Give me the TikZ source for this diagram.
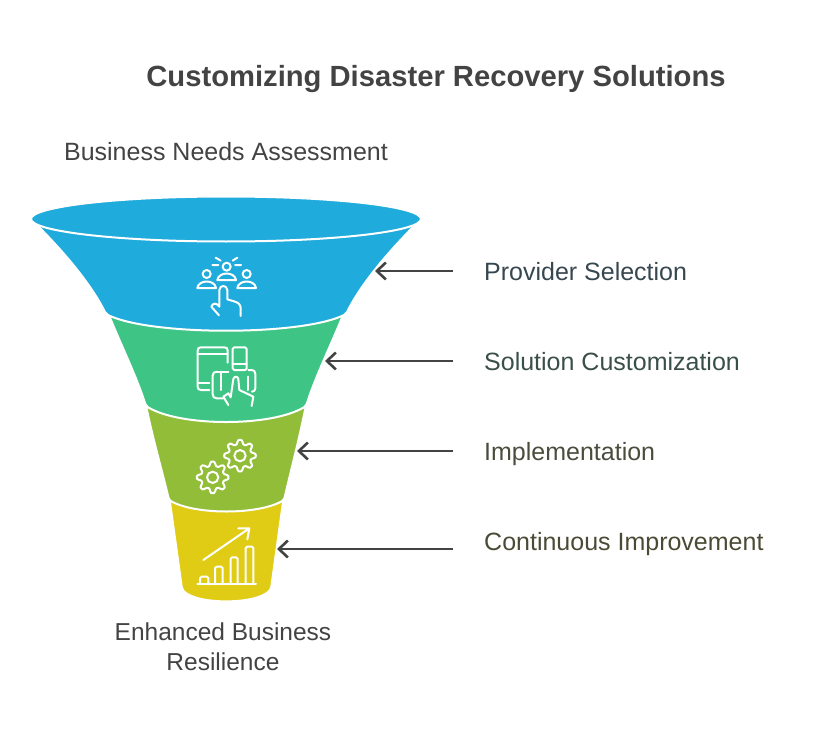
\documentclass[tikz,border=0pt]{standalone}
\usepackage{fontspec}
\setmainfont{Liberation Sans}
\usepackage{tikz}
\usetikzlibrary{arrows.meta,positioning}
\definecolor{inkgray}{HTML}{434343}
\definecolor{inkblue}{HTML}{37474F}
\definecolor{inkgreen}{HTML}{3A4F4A}
\definecolor{inkolive}{HTML}{4A4D3C}
\definecolor{inkyellow}{HTML}{4A4A35}
\definecolor{stageblue}{HTML}{1FABDC}
\definecolor{stagegreen}{HTML}{3EC585}
\definecolor{stageolive}{HTML}{92BD39}
\definecolor{stageyellow}{HTML}{E0CC14}
\newcommand{\GEAR}[2]{%
  \draw[iconline] plot[smooth, domain=0:360, samples=73] ({#1+(41+9*max(-0.7,min(0.7,cos(8*\x))))*cos(\x)}, {#2+(41+9*max(-0.7,min(0.7,cos(8*\x))))*sin(\x)}) -- cycle;
  \draw[iconline] (#1,#2) circle (17);}

\begin{document}
\begin{tikzpicture}[
    x=1pt, y=-1pt,
    stage/.style={draw=white, line width=2pt, rounded corners=2pt},
    iconline/.style={draw=white, line width=2pt, line cap=round, line join=round},
    pointer/.style={-{Straight Barb[length=9pt, width=17pt]}, draw=inkgray, line width=2.6pt},
    side/.style={anchor=base west, inner sep=0pt, font=\fontsize{25}{28}\selectfont},
    head/.style={inner sep=0pt, align=center, font=\fontsize{25}{30}\selectfont, text=inkgray}
]
\useasboundingbox (0,0) rectangle (813,738);

% Funnel, lowest stage first
\fill[stageyellow, stage] (169,495) -- (182,589) .. controls (195,605) and (257,605) .. (271,589) -- (284,495) -- cycle;
\fill[stageolive, stage] (146,405) .. controls (153,440) and (162,470) .. (169,500) .. controls (195,515) and (258,515) .. (284,500) .. controls (291,470) and (299,440) .. (306,405) -- cycle;
\fill[stagegreen, stage] (109,315) .. controls (121,345) and (136,375) .. (146,406) .. controls (180,427) and (272,427) .. (306,406) .. controls (316,375) and (331,345) .. (343,315) -- cycle;
\fill[stageblue, stage] (32,220) .. controls (55,243) and (88,278) .. (106,314) .. controls (150,336) and (302,336) .. (346,314) .. controls (364,278) and (397,243) .. (420,220) -- cycle;
\fill[stageblue, stage] (226,219) ellipse (195 and 22.5);

% Blue icon
\begin{scope}[shift={(20,190)}, xscale=1/3, yscale=1/3]
\draw[iconline] (620,230) circle (12);
\draw[iconline] (592,270) .. controls (596,244) and (644,244) .. (648,270) -- cycle;
\draw[iconline] (560,252) circle (12);
\draw[iconline] (532,294) .. controls (536,268) and (584,268) .. (588,294) -- cycle;
\draw[iconline] (680,252) circle (12);
\draw[iconline] (652,294) .. controls (656,268) and (704,268) .. (708,294) -- cycle;
\draw[iconline] (587,203) -- (602,212) (652,203) -- (638,212) (577,225) -- (595,225) (645,225) -- (663,225);
\draw[iconline] (597,376) -- (574,350) .. controls (578,338) and (590,338) .. (598,350) -- (598,300) .. controls (600,284) and (620,284) .. (622,300) -- (622,328) -- (645,335) .. controls (656,338) and (662,345) .. (662,355) -- (662,378);
\end{scope}

% Green icon
\begin{scope}[shift={(100,310)}, xscale=1/3, yscale=1/3]
\draw[iconline] (328,240) -- (303,240) .. controls (296,240) and (293,236) .. (293,230) -- (293,122) .. controls (293,115) and (296,112) .. (303,112) -- (373,112) .. controls (380,112) and (383,115) .. (383,122) -- (383,158);
\draw[iconline] (293,132) -- (383,132) (293,218) -- (328,218);
\draw[iconline, rounded corners=1.5pt] (398,112) rectangle (440,180);
\draw[iconline] (398,162) -- (440,162);
\draw[iconline] (350,185) .. controls (342,185) and (338,190) .. (338,197) -- (338,252) .. controls (338,260) and (342,265) .. (350,265) -- (370,265);
\draw[iconline] (350,185) -- (385,185) (362,185) -- (362,240);
\draw[iconline] (445,180) -- (455,180) .. controls (462,180) and (466,184) .. (466,192) -- (466,235) .. controls (466,241) and (462,245) .. (456,245);
\draw[iconline] (445,200) -- (445,240);
\draw[iconline] (385,285) -- (370,260) -- (385,250) -- (392,262) -- (400,207) .. controls (403,198) and (413,198) .. (415,207) -- (418,240) -- (460,260) -- (455,288);
\end{scope}

% Olive and yellow icons
\begin{scope}[shift={(140,420)}, xscale=1/3, yscale=1/3]
\GEAR{218}{172}
\GEAR{300}{107}
\draw[iconline] (172,493) -- (348,493);
\draw[iconline, rounded corners=1.5pt] (180,493) -- (180,470) -- (205,470) -- (205,493);
\draw[iconline, rounded corners=1.5pt] (225,493) -- (225,440) -- (248,440) -- (248,493);
\draw[iconline, rounded corners=1.5pt] (272,493) -- (272,412) -- (293,412) -- (293,493);
\draw[iconline, rounded corners=1.5pt] (317,493) -- (317,380) -- (340,380) -- (340,493);
\draw[iconline] (190,420) -- (328,325) (295,325) -- (328,325) -- (322,358);
\end{scope}

% Texts
\node[inner sep=0pt, font=\bfseries\fontsize{29.2}{34}\selectfont, text=inkgray] (title) at (436,79) {Customizing Disaster Recovery Solutions};
\node[head] (needs) at (226,152) {Business Needs Assessment};
\node[head, font=\fontsize{24.5}{30}\selectfont] (resilience) at (223,647) {Enhanced Business\\Resilience};
\node[side, text=inkblue] (provider) at (484,280) {Provider Selection};
\node[side, text=inkgreen] (custom) at (484,370) {Solution Customization};
\node[side, text=inkolive] (implement) at (484,460) {Implementation};
\node[side, text=inkyellow] (improve) at (484,550) {Continuous Improvement};

% Pointers
\coordinate (providertail) at (453,271);
\coordinate (providertip) at (375,271);
\coordinate (customtail) at (453,361);
\coordinate (customtip) at (325,361);
\coordinate (implementtail) at (453,451);
\coordinate (implementtip) at (297,451);
\coordinate (improvetail) at (453,549);
\coordinate (improvetip) at (277,549);
\draw[pointer] (providertail) -- (providertip);
\draw[pointer] (customtail) -- (customtip);
\draw[pointer] (implementtail) -- (implementtip);
\draw[pointer] (improvetail) -- (improvetip);

\end{tikzpicture}
\end{document}
